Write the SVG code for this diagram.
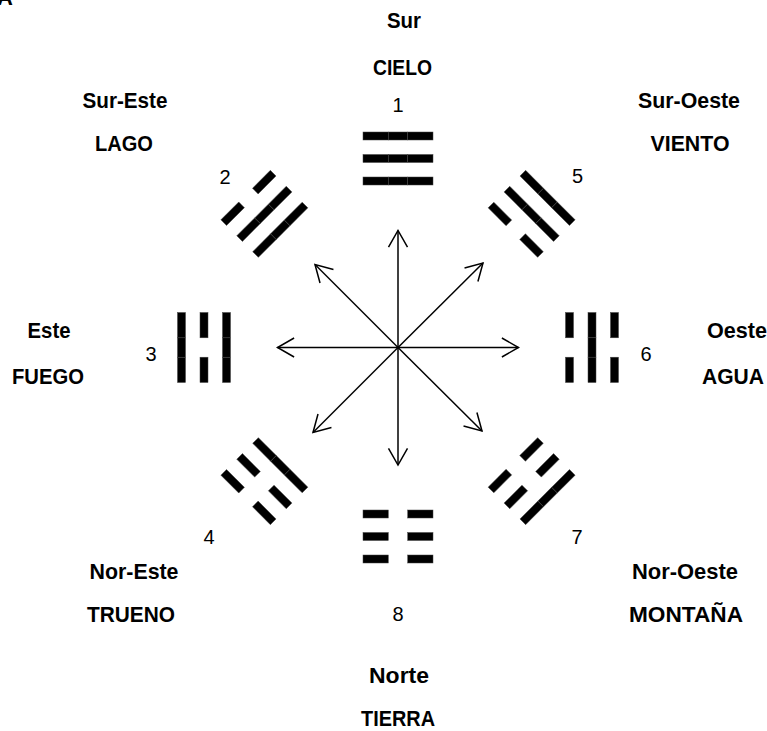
<svg xmlns="http://www.w3.org/2000/svg" xmlns:xlink="http://www.w3.org/1999/xlink" width="767" height="731" viewBox="0 0 767 731">
<style>
.lbl{font-family:"Liberation Sans",Arial,sans-serif;font-weight:bold;font-size:22px;fill:#000;text-anchor:middle}
.num{font-family:"Liberation Sans",Arial,sans-serif;font-size:20px;fill:#000;text-anchor:middle}
.seg{fill:#000;stroke:#444;stroke-width:0.5}
.arr{stroke:#000;stroke-width:1.5;fill:none;marker-end:url(#head)}
</style>
<defs>
<marker id="head" markerUnits="userSpaceOnUse" markerWidth="20" markerHeight="20" refX="0" refY="0" orient="auto" overflow="visible">
<path d="M-16.6,-9.5 L0,0 L-16.6,9.5" fill="none" stroke="#000" stroke-width="1.5"/>
</marker>
<g id="yang">
<rect class="seg" x="-35" y="-4" width="25.3" height="8"/>
<rect class="seg" x="-9.7" y="-4" width="19.4" height="8"/>
<rect class="seg" x="9.7" y="-4" width="25.3" height="8"/>
</g>
<g id="yin">
<rect class="seg" x="-35" y="-4" width="25.3" height="8"/>
<rect class="seg" x="9.7" y="-4" width="25.3" height="8"/>
</g>
</defs>
<rect width="767" height="731" fill="#fff"/>
<text class="lbl" x="5" y="5">A</text>

<g id="connectors">
<line class="arr" x1="398" y1="347.5" x2="398" y2="230.5"/>
<line class="arr" x1="398" y1="347.5" x2="398" y2="465"/>
<line class="arr" x1="398" y1="347.5" x2="277.5" y2="347.5"/>
<line class="arr" x1="398" y1="347.5" x2="518.5" y2="347.5"/>
<line class="arr" x1="398" y1="347.5" x2="483" y2="263"/>
<line class="arr" x1="398" y1="347.5" x2="315" y2="264.5"/>
<line class="arr" x1="398" y1="347.5" x2="313" y2="432.5"/>
<line class="arr" x1="398" y1="347.5" x2="482" y2="431"/>
</g>

<g id="n1-cielo">
<g transform="translate(398,347.5) rotate(0) translate(0,-189)">
<use xlink:href="#yang" y="-22.5"/><use xlink:href="#yang" y="0"/><use xlink:href="#yang" y="22.5"/>
</g>
<text class="lbl" x="404" y="28" textLength="34" lengthAdjust="spacingAndGlyphs">Sur</text>
<text class="lbl" x="402.5" y="75" textLength="59" lengthAdjust="spacingAndGlyphs">CIELO</text>
<text class="num" x="398" y="112">1</text>
</g>

<g id="n2-lago">
<g transform="translate(398,347.5) rotate(-45) translate(0,-189)">
<use xlink:href="#yin" y="-22.5"/><use xlink:href="#yang" y="0"/><use xlink:href="#yang" y="22.5"/>
</g>
<text class="lbl" x="125" y="108" textLength="85" lengthAdjust="spacingAndGlyphs">Sur-Este</text>
<text class="lbl" x="124" y="151" textLength="58" lengthAdjust="spacingAndGlyphs">LAGO</text>
<text class="num" x="225" y="184">2</text>
</g>

<g id="n3-fuego">
<g transform="translate(398,347.5) rotate(-90) translate(0,-194)">
<use xlink:href="#yang" y="-22.5"/><use xlink:href="#yin" y="0"/><use xlink:href="#yang" y="22.5"/>
</g>
<text class="lbl" x="49" y="338" textLength="43" lengthAdjust="spacingAndGlyphs">Este</text>
<text class="lbl" x="48" y="384" textLength="72" lengthAdjust="spacingAndGlyphs">FUEGO</text>
<text class="num" x="151" y="361">3</text>
</g>

<g id="n4-trueno">
<g transform="translate(398,347.5) rotate(-135) translate(0,-189)">
<use xlink:href="#yin" y="-22.5"/><use xlink:href="#yin" y="0"/><use xlink:href="#yang" y="22.5"/>
</g>
<text class="lbl" x="134" y="579" textLength="89" lengthAdjust="spacingAndGlyphs">Nor-Este</text>
<text class="lbl" x="131" y="622" textLength="88" lengthAdjust="spacingAndGlyphs">TRUENO</text>
<text class="num" x="209" y="544">4</text>
</g>

<g id="n5-viento">
<g transform="translate(398,347.5) rotate(45) translate(0,-189)">
<use xlink:href="#yang" y="-22.5"/><use xlink:href="#yang" y="0"/><use xlink:href="#yin" y="22.5"/>
</g>
<text class="lbl" x="689" y="108" textLength="102" lengthAdjust="spacingAndGlyphs">Sur-Oeste</text>
<text class="lbl" x="690" y="151" textLength="79" lengthAdjust="spacingAndGlyphs">VIENTO</text>
<text class="num" x="577.5" y="183">5</text>
</g>

<g id="n6-agua">
<g transform="translate(398,347.5) rotate(90) translate(0,-194)">
<use xlink:href="#yin" y="-22.5"/><use xlink:href="#yang" y="0"/><use xlink:href="#yin" y="22.5"/>
</g>
<text class="lbl" x="737" y="338" textLength="60" lengthAdjust="spacingAndGlyphs">Oeste</text>
<text class="lbl" x="733" y="384" textLength="62" lengthAdjust="spacingAndGlyphs">AGUA</text>
<text class="num" x="646" y="361">6</text>
</g>

<g id="n7-montana">
<g transform="translate(398,347.5) rotate(135) translate(0,-189)">
<use xlink:href="#yang" y="-22.5"/><use xlink:href="#yin" y="0"/><use xlink:href="#yin" y="22.5"/>
</g>
<text class="lbl" x="685" y="579" textLength="106" lengthAdjust="spacingAndGlyphs">Nor-Oeste</text>
<text class="lbl" x="686" y="622" textLength="114" lengthAdjust="spacingAndGlyphs">MONTAÑA</text>
<text class="num" x="577" y="544">7</text>
</g>

<g id="n8-tierra">
<g transform="translate(398,347.5) rotate(180) translate(0,-189)">
<use xlink:href="#yin" y="-22.5"/><use xlink:href="#yin" y="0"/><use xlink:href="#yin" y="22.5"/>
</g>
<text class="lbl" x="399" y="683" textLength="60" lengthAdjust="spacingAndGlyphs">Norte</text>
<text class="lbl" x="398" y="726" textLength="74" lengthAdjust="spacingAndGlyphs">TIERRA</text>
<text class="num" x="398" y="621">8</text>
</g>
</svg>
